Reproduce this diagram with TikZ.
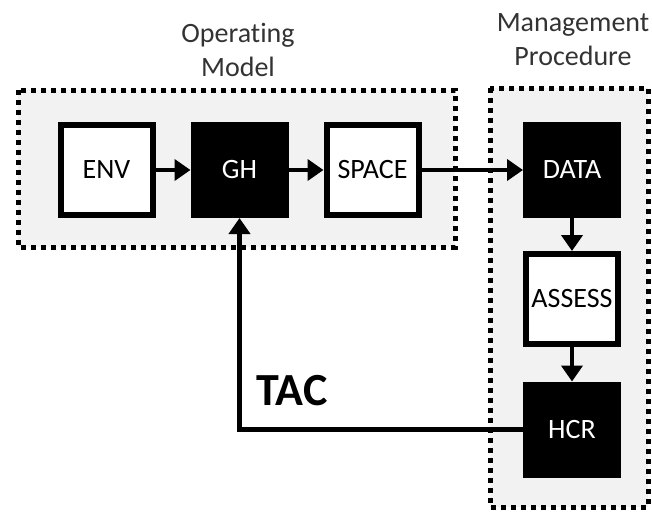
\documentclass[tikz,border=0pt]{standalone}
\usepackage{fontspec}
\setmainfont{Carlito}[Ligatures=NoCommon]
\usetikzlibrary{arrows.meta}

\begin{document}
\begin{tikzpicture}[x=1pt, y=-1pt,
  panel/.style={draw=black, fill=black!5, line width=5pt, dash pattern=on 5pt off 5pt},
  whitebox/.style={draw=black, fill=white, line width=6pt, minimum width=92pt, minimum height=90pt, inner sep=0pt, font=\fontsize{28}{32}\selectfont},
  blackbox/.style={whitebox, fill=black, text=white},
  flow/.style={line width=4.5pt, -{Triangle[length=16pt, width=21pt]}},
  title/.style={align=center, text=black!80, font=\fontsize{28}{34}\selectfont}]
\useasboundingbox (0, 0) rectangle (652, 512);
\draw[panel] (18, 90) rectangle (455, 247); % Operating Model
\draw[panel] (490, 88) rectangle (648, 507); % Management Procedure
\node[title] (omtitle) at (238, 50) {Operating\\Model};
\node[title] (mptitle) at (573, 40) {Management\\Procedure};
\node[whitebox] (env) at (106.5, 170) {ENV};
\node[blackbox] (gh) at (239.5, 170) {GH};
\node[whitebox] (space) at (372.5, 170) {SPACE};
\node[blackbox] (data) at (572, 170) {DATA};
\node[whitebox] (assess) at (572, 299) {ASSESS};
\node[blackbox] (hcr) at (572, 429.5) {HCR};
\node[font=\bfseries\fontsize{46}{50}\selectfont] (tac) at (292, 391) {TAC};
\draw[flow] (env) -- (gh);
\draw[flow] (gh) -- (space);
\draw[flow] (space) -- (data);
\draw[flow] (data) -- (assess);
\draw[flow] (assess) -- (hcr);
\draw[flow] (hcr.west) -| (gh.south); % feedback
\end{tikzpicture}
\end{document}
